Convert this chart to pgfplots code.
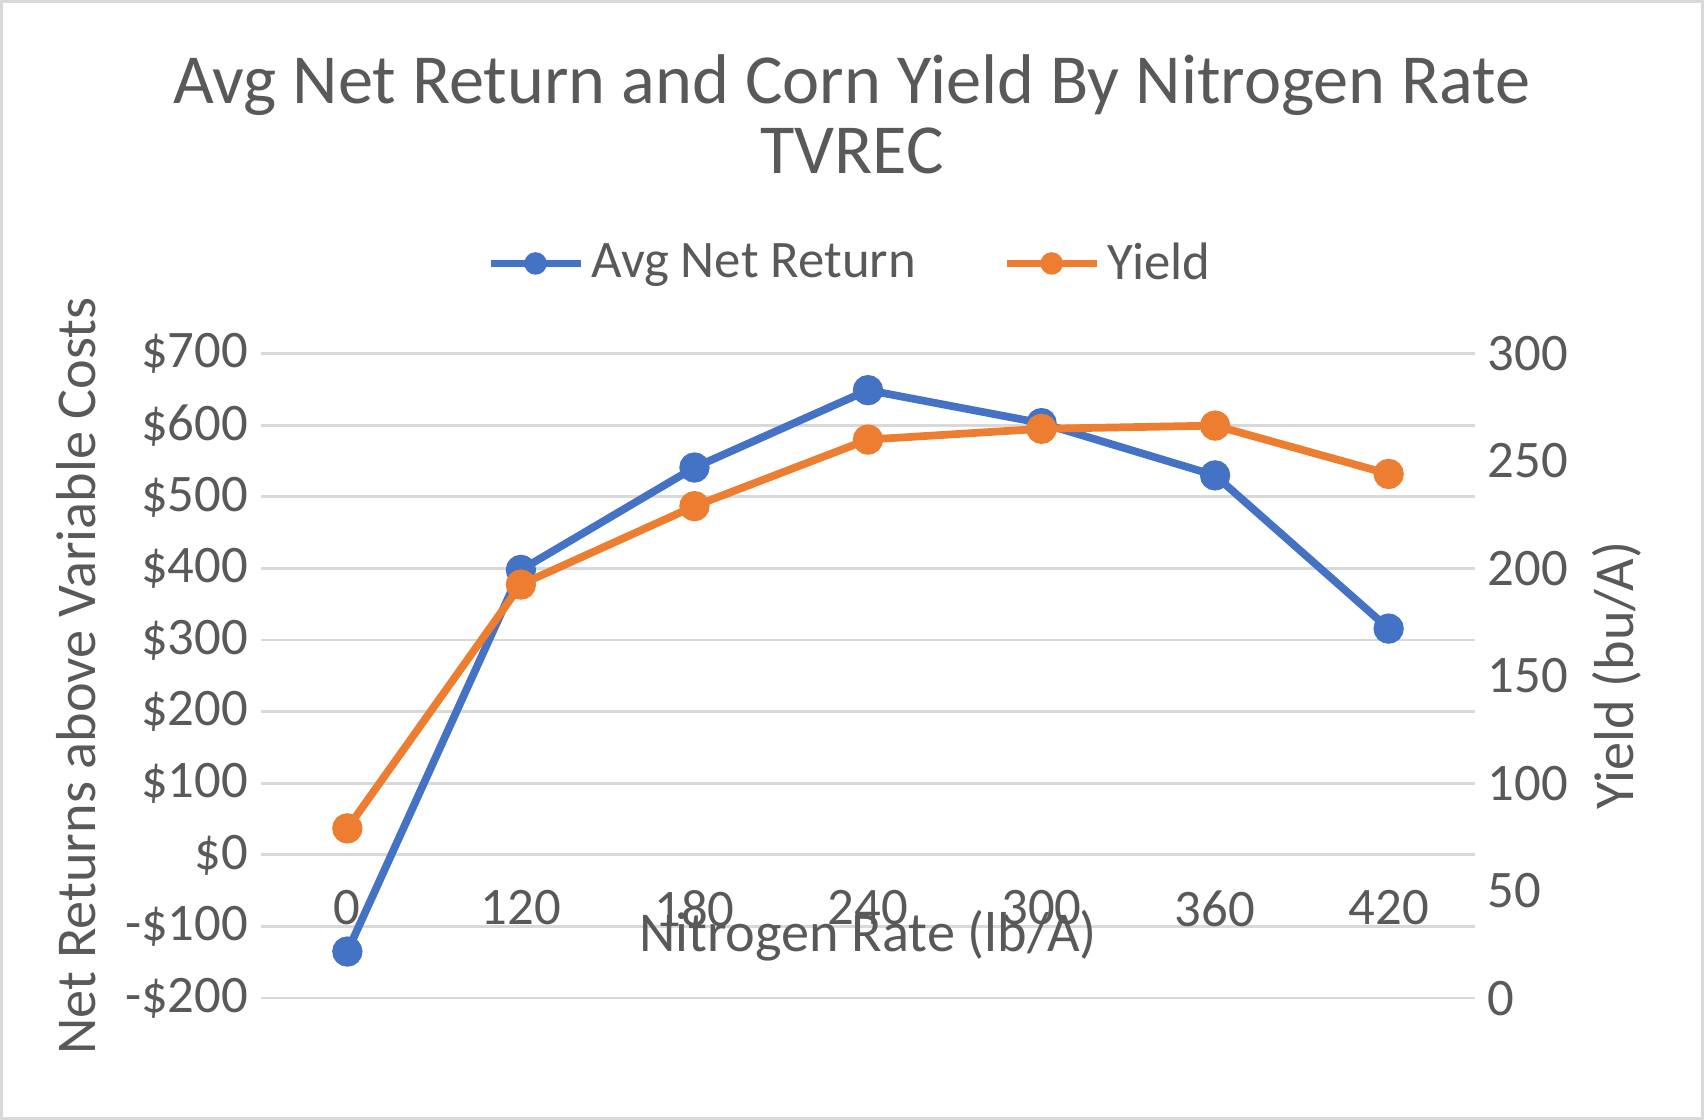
\documentclass[border=0pt]{standalone}
\usepackage{pgfplots}
\pgfplotsset{compat=1.18}
\usepackage{fontspec}
\setmainfont{Carlito}
\definecolor{cblue}{HTML}{4472C4}
\definecolor{corange}{HTML}{ED7D31}
\definecolor{tgrey}{HTML}{595959}
\definecolor{ggrey}{HTML}{D9D9D9}
\begin{document}
\begin{tikzpicture}
\draw[ggrey,line width=0.8pt] (0.02,0.02) rectangle (17.02,11.18);
\node[tgrey,font=\fontsize{20}{24}\selectfont,align=center] at (8.52,10.05) {Avg Net Return and Corn Yield By Nitrogen Rate\\[-0.15cm]TVREC};
\pgfplotsset{every axis/.append style={
  scale only axis, width=12.14cm, height=6.44cm, at={(2.61cm,1.22cm)}, anchor=south west,
  xmin=-0.5, xmax=6.5, axis line style={draw=none}, major tick length=0pt,
  tick label style={tgrey,font=\fontsize{15}{18}\selectfont},
  label style={tgrey,font=\fontsize{16}{19}\selectfont},
  /pgf/number format/assume math mode=true}}
\begin{axis}[
  ymin=-200, ymax=700, ytick={-200,-100,...,700},
  yticklabels={-\$200,-\$100,\$0,\$100,\$200,\$300,\$400,\$500,\$600,\$700},
  ymajorgrids, grid style={ggrey,line width=0.8pt},
  xtick={0,...,6}, xticklabels={0,120,180,240,300,360,420},
  xticklabel style={yshift=1.2cm},
  xlabel={Nitrogen Rate (lb/A)}, xlabel style={yshift=1.0cm},
  ylabel={Net Returns above Variable Costs}, ylabel style={yshift=0.05cm},
  legend style={at={(0.487,1.14)}, anchor=center, draw=none, legend columns=2,
    font=\fontsize{15}{18}\selectfont\color{tgrey},
    /tikz/every even column/.append style={column sep=0.8cm}},
  legend image code/.code={\draw[#1,line width=2.2pt] (0cm,0cm) -- (0.9cm,0cm); \fill[#1,draw=none] (0.45cm,0cm) circle (3.2pt);},
]
\addplot[cblue, line width=2.2pt, mark=*, mark size=3.2pt] coordinates {(0,-135) (1,398) (2,541) (3,649) (4,603) (5,530) (6,316)};
\addlegendentry{Avg Net Return}
\addlegendimage{corange}
\addlegendentry{Yield}
\end{axis}
\begin{axis}[
  ymin=0, ymax=300, ytick={0,50,...,300}, axis y line*=right,
  xtick=\empty, ylabel={Yield (bu/A)},
]
\addplot[corange, line width=2.2pt, mark=*, mark size=3.2pt] coordinates {(0,79) (1,192.5) (2,229) (3,260) (4,265) (5,266.5) (6,244)};
\end{axis}
\end{tikzpicture}
\end{document}
